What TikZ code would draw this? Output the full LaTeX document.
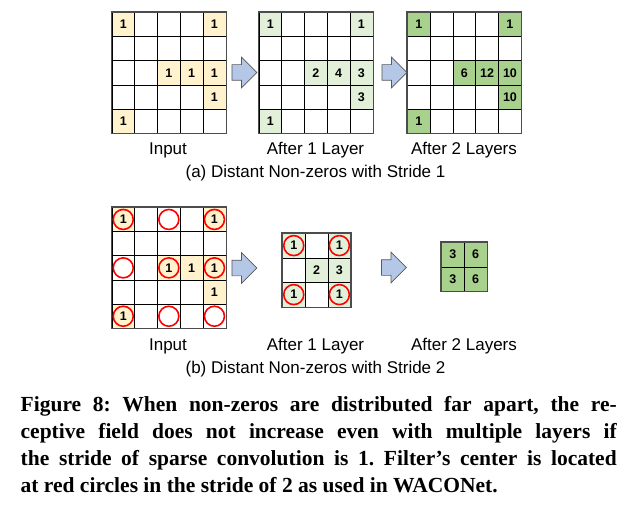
\documentclass[tikz,border=0pt]{standalone}
\usepackage{fontspec}
\setmainfont{Liberation Serif}
\newfontfamily\labelfont{Liberation Sans}
\usetikzlibrary{shapes.arrows}

\definecolor{inyellow}{HTML}{FFF2CC}
\definecolor{paleGreen}{HTML}{E2F0D9}
\definecolor{midGreen}{HTML}{A9D18E}
\definecolor{arrowBlue}{HTML}{B4C7E7}

\tikzset{
  cell/.style={draw=black, line width=0.7pt, minimum width=22.8pt, inner sep=0pt,
    font=\labelfont\bfseries\fontsize{12.5}{12.5}\selectfont},
  border/.style={draw=black!70, line width=1.4pt},
  ring/.style={circle, draw=red, line width=1.6pt, minimum size=20pt, inner sep=0pt},
  layerarrow/.style={single arrow, draw=black!65, fill=arrowBlue, line width=0.7pt,
    minimum height=25pt, inner xsep=0pt, inner ysep=7.5pt, single arrow head extend=7.5pt},
  sublabel/.style={anchor=base, font=\labelfont\fontsize{17}{17}\selectfont}
}

% name, x, y, size, cell height, filled cells, fill colour
\newcommand{\cellgrid}[7]{%
  \foreach \r in {1,...,#4}
    \foreach \c in {1,...,#4}
      \node[cell, minimum height=#5pt, anchor=north west] (#1-\r-\c)
        at ({#2+(\c-1)*22.8}, {#3+(\r-1)*#5}) {};
  \foreach \p/\v in {#6}
    \node[cell, minimum height=#5pt, fill=#7] at (#1-\p) {\v};
  \draw[border] (#1-1-1.north west) rectangle (#1-#4-#4.south east);
}

\begin{document}
\begin{tikzpicture}[x=1pt, y=-1pt]
    \useasboundingbox (0,0) rectangle (637,508);

    % (a) stride 1
    \cellgrid{ain}{111.5}{12}{5}{24.2}{1-1/1, 1-5/1, 3-3/1, 3-4/1, 3-5/1, 4-5/1, 5-1/1}{inyellow}
    \cellgrid{aone}{258.5}{12}{5}{24.2}{1-1/1, 1-5/1, 3-3/2, 3-4/4, 3-5/3, 4-5/3, 5-1/1}{paleGreen}
    \cellgrid{atwo}{407}{12}{5}{24.2}{1-1/1, 1-5/1, 3-3/6, 3-4/12, 3-5/10, 4-5/10, 5-1/1}{midGreen}

    \node[layerarrow] (aarr1) at (240.5,72.5) {};
    \node[layerarrow] (aarr2) at (390.5,72.5) {};

    \node[sublabel] (ainlab) at (168,154) {Input};
    \node[sublabel] (aonelab) at (315.5,154) {After 1 Layer};
    \node[sublabel] (atwolab) at (464,154) {After 2 Layers};
    \node[sublabel] (acap) at (315.5,177) {(a) Distant Non-zeros with Stride 1};

    % (b) stride 2
    \cellgrid{bin}{111.5}{207}{5}{24.2}{1-1/1, 1-5/1, 3-3/1, 3-4/1, 3-5/1, 4-5/1, 5-1/1}{inyellow}
    \cellgrid{bone}{282}{233}{3}{24.5}{1-1/1, 1-3/1, 2-2/2, 2-3/3, 3-1/1, 3-3/1}{paleGreen}
    \cellgrid{btwo}{441}{242}{2}{24.5}{1-1/3, 1-2/6, 2-1/3, 2-2/6}{midGreen}

    \foreach \p in {1-1, 1-3, 1-5, 3-1, 3-3, 3-5, 5-1, 5-3, 5-5}
      \node[ring] at (bin-\p) {};
    \foreach \p in {1-1, 1-3, 3-1, 3-3}
      \node[ring] at (bone-\p) {};

    \node[layerarrow] (barr1) at (240.5,268) {};
    \node[layerarrow] (barr2) at (390,267.5) {};

    \node[sublabel] (binlab) at (168,350) {Input};
    \node[sublabel] (bonelab) at (315.5,350) {After 1 Layer};
    \node[sublabel] (btwolab) at (464,350) {After 2 Layers};
    \node[sublabel] (bcap) at (315.5,373) {(b) Distant Non-zeros with Stride 2};

    % caption
    \node[anchor=north west, inner sep=0pt, text width=596pt, align=justify,
      font=\bfseries\fontsize{21.5}{27}\selectfont\frenchspacing] (caption) at (20.5,396)
      {Figure 8: When non-zeros are distributed far apart, the re-\linebreak
       ceptive field does not increase even with multiple layers if\linebreak
       the stride of sparse convolution is 1. Filter’s center is located\linebreak
       at red circles in the stride of 2 as used in WACONet.};
\end{tikzpicture}
\end{document}
